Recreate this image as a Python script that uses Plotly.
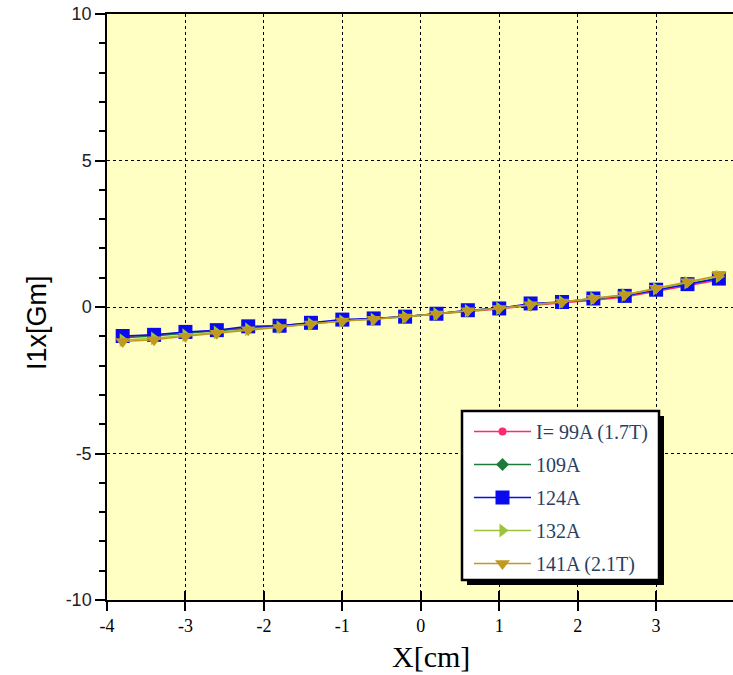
import plotly.graph_objects as go

# ---- data ----
x_cm = [-3.8, -3.4, -3.0, -2.6, -2.2, -1.8, -1.4, -1.0, -0.6, -0.2,
        0.2, 0.6, 1.0, 1.4, 1.8, 2.2, 2.6, 3.0, 3.4, 3.8]

i99 = [-1.02, -0.95, -0.87, -0.80, -0.70, -0.64, -0.55, -0.46, -0.40, -0.33,
       -0.24, -0.15, -0.07, 0.05, 0.13, 0.23, 0.34, 0.53, 0.72, 0.92]
i109 = [-1.05, -0.99, -0.90, -0.82, -0.72, -0.66, -0.56, -0.46, -0.40, -0.32,
        -0.23, -0.13, -0.05, 0.07, 0.16, 0.27, 0.38, 0.58, 0.78, 0.99]
i124 = [-0.99, -0.95, -0.85, -0.79, -0.66, -0.64, -0.54, -0.43, -0.39, -0.33,
        -0.23, -0.11, -0.05, 0.12, 0.17, 0.29, 0.38, 0.59, 0.78, 0.97]
i132 = [-1.13, -1.07, -0.96, -0.87, -0.76, -0.69, -0.58, -0.48, -0.42, -0.34,
        -0.24, -0.13, -0.05, 0.08, 0.17, 0.29, 0.41, 0.62, 0.83, 1.04]
i141 = [-1.18, -1.12, -1.00, -0.90, -0.78, -0.70, -0.58, -0.48, -0.42, -0.34,
        -0.24, -0.13, -0.05, 0.08, 0.17, 0.30, 0.42, 0.64, 0.86, 1.08]

series_names = ["I= 99A (1.7T)", "109A", "124A", "132A", "141A (2.1T)"]
series_values = [i99, i109, i124, i132, i141]
series_colors = ["#FF2A6D", "#1E7B3C", "#0A0AEE", "#9BC43A", "#C09A20"]
series_symbols = ["circle", "diamond", "square", "triangle-right", "triangle-down"]
series_sizes = [8, 10, 14, 12, 13]

x_ticks = [-4, -3, -2, -1, 0, 1, 2, 3]
y_ticks = [-10, -5, 0, 5, 10]

# ---- geometry helpers (pixel -> paper) ----
W, H = 733, 675
ML, MR, MT, MB = 107, 0, 14, 75
PW, PH = W - ML - MR, H - MT - MB


def px(p):
    return (p - ML) / PW


def py(p):
    return (H - MB - p) / PH


SERIF = "Liberation Serif"
SANS = "Liberation Sans"

fig = go.Figure()
for name, vals, col, sym, sz in zip(series_names, series_values, series_colors,
                                    series_symbols, series_sizes):
    fig.add_trace(go.Scatter(
        x=x_cm, y=vals, name=name, mode="lines+markers",
        line=dict(color=col, width=1.5),
        marker=dict(color=col, symbol=sym, size=sz),
        legendgroup=name,
    ))

# overlay axis to get crossing ticks on x
fig.add_trace(go.Scatter(x=[0], y=[0], xaxis="x2", mode="markers",
                         marker=dict(opacity=0), showlegend=False, hoverinfo="skip"))

fig.update_layout(
    width=W, height=H,
    margin=dict(l=ML, r=MR, t=MT, b=MB),
    paper_bgcolor="white",
    plot_bgcolor="#FFFFC4",
    showlegend=True,
    legend=dict(
        x=px(469), y=py(412), xanchor="left", yanchor="top",
        bgcolor="rgba(0,0,0,0)", borderwidth=0,
        font=dict(family=SERIF, size=20),
        traceorder="grouped", tracegroupgap=4, itemwidth=57,
    ),
    xaxis=dict(
        range=[-4, 3.98], tickvals=x_ticks, ticktext=[str(v) for v in x_ticks],
        showline=True, linecolor="black", linewidth=1.5, mirror=True,
        ticks="outside", ticklen=9, tickcolor="black", tickwidth=1.5,
        showgrid=True, gridcolor="black", griddash="dot", gridwidth=1,
        zeroline=False,
        tickfont=dict(family=SERIF, size=18, color="black"),
    ),
    xaxis2=dict(
        overlaying="x", matches="x", range=[-4, 3.98], tickvals=x_ticks,
        showticklabels=False, ticks="inside", ticklen=9, tickcolor="black",
        tickwidth=1.5, showgrid=False, zeroline=False, showline=False,
        side="bottom",
    ),
    yaxis=dict(
        range=[-10, 10], tickvals=y_ticks, ticktext=[str(v) for v in y_ticks],
        showline=True, linecolor="black", linewidth=1.5,
        ticks="outside", ticklen=10, tickcolor="black", tickwidth=1.5,
        minor=dict(dtick=1, ticks="outside", ticklen=6, tickcolor="black",
                   showgrid=False),
        showgrid=True, gridcolor="black", griddash="dot", gridwidth=1,
        zeroline=False,
        tickfont=dict(family=SANS, size=18, color="#222222"),
    ),
    shapes=[
        dict(type="rect", xref="paper", yref="paper",
             x0=px(467), x1=px(664), y0=py(585), y1=py(416),
             fillcolor="black", line=dict(width=0), layer="above"),
        dict(type="rect", xref="paper", yref="paper",
             x0=px(462), x1=px(659), y0=py(580), y1=py(411),
             fillcolor="white", line=dict(color="black", width=2.5), layer="above"),
    ],
    annotations=[
        dict(text="X[cm]", xref="paper", yref="paper", x=px(431), y=py(656),
             showarrow=False, xanchor="center", yanchor="middle",
             font=dict(family=SERIF, size=30, color="black")),
        dict(text="I1x[Gm]", xref="paper", yref="paper", x=px(37), y=py(323),
             showarrow=False, xanchor="center", yanchor="middle", textangle=-90,
             font=dict(family=SANS, size=27, color="black")),
        dict(text="4", xref="x", yref="paper", x=4, y=py(626),
             showarrow=False, xanchor="center", yanchor="middle",
             font=dict(family=SERIF, size=18, color="black")),
    ],
)

fig.write_html("out.html", config={"displayModeBar": False},
               post_script="document.body.style.margin='0';document.body.style.overflow='hidden';")
